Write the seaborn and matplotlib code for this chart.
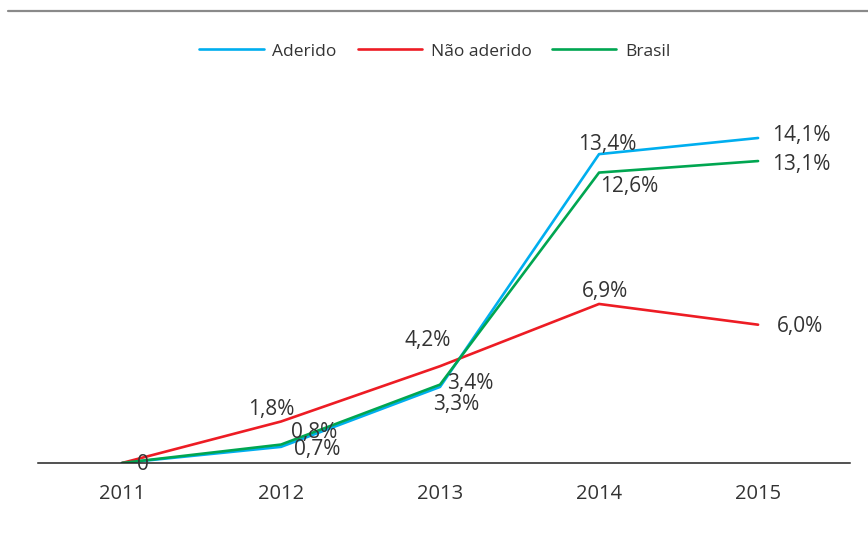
import pandas as pd
import numpy as np
import matplotlib
matplotlib.use('Agg')
import matplotlib.pyplot as plt
import seaborn as sns
from matplotlib.lines import Line2D

sns.set_theme(style='white')
plt.rcParams['font.family'] = ['Open Sans', 'DejaVu Sans']

# data
years = ['2011', '2012', '2013', '2014', '2015']
aderido = [0, 0.7, 3.3, 13.4, 14.1]
nao_aderido = [0, 1.8, 4.2, 6.9, 6.0]
brasil = [0, 0.8, 3.4, 12.6, 13.1]

series_names = ['Aderido', 'Não aderido', 'Brasil']
colors = ['#00AEEF', '#ED1C24', '#00A651']

# label text per series
labels_aderido = ['0', '0,7%', '3,3%', '13,4%', '14,1%']
labels_nao = ['', '1,8%', '4,2%', '6,9%', '6,0%']
labels_brasil = ['', '0,8%', '3,4%', '12,6%', '13,1%']

# label offsets in px (x right, y up)
off_aderido = [(21, -2), (36, -3), (16, -18), (8, 10), (43, 2)]
off_nao = [(0, 0), (-10, 12), (-12, 26), (6, 12), (42, -2)]
off_brasil = [(0, 0), (33, 12), (30, 1), (30, -14), (43, -3)]

df = pd.DataFrame({
    'pos': list(range(len(years))) * 3,
    'valor': aderido + nao_aderido + brasil,
    'serie': [s for s in series_names for _ in years],
})

fig = plt.figure(figsize=(8.68, 5.52), dpi=100)
ax = fig.add_axes([38 / 868, 1 - 463 / 552, (850 - 38) / 868, (463 - 80) / 552])

sns.lineplot(data=df, x='pos', y='valor', hue='serie', hue_order=series_names,
             palette=colors, linewidth=1.9, ax=ax, legend=True)

ax.set_xlim(-0.528, 4.578)
ax.set_ylim(0, (463 - 80) / 23.05)
ax.set_xticks(range(len(years)))
ax.set_xticklabels(years, fontsize=14.5, color='#333333')
ax.set_yticks([])
ax.set_xlabel('')
ax.set_ylabel('')
ax.tick_params(axis='x', length=0, pad=15)
for s in ['top', 'right', 'left']:
    ax.spines[s].set_visible(False)
ax.spines['bottom'].set_color('#222222')
ax.spines['bottom'].set_linewidth(1.1)

px = 72 / 100
for vals, labs, offs in [(aderido, labels_aderido, off_aderido),
                         (nao_aderido, labels_nao, off_nao),
                         (brasil, labels_brasil, off_brasil)]:
    for i, (v, t, o) in enumerate(zip(vals, labs, offs)):
        if not t:
            continue
        ax.annotate(t, (i, v), xytext=(o[0] * px, o[1] * px), textcoords='offset points',
                    ha='center', va='center', fontsize=15, color='#333333')

handles = [Line2D([0], [0], color=c, lw=1.9) for c in colors]
fig.legend(handles, series_names, loc='center', bbox_to_anchor=(435 / 868, 1 - 51.5 / 552),
           ncol=3, frameon=False, fontsize=12.5, handlelength=3.7, handletextpad=0.5,
           columnspacing=1.2, labelcolor='#333333')
ax.get_legend().remove()

fig.add_artist(Line2D([8 / 868, 1], [1 - 10.5 / 552] * 2, color='#8a8a8a', lw=1.6,
                      transform=fig.transFigure))

fig.savefig('out.png', dpi=100)
